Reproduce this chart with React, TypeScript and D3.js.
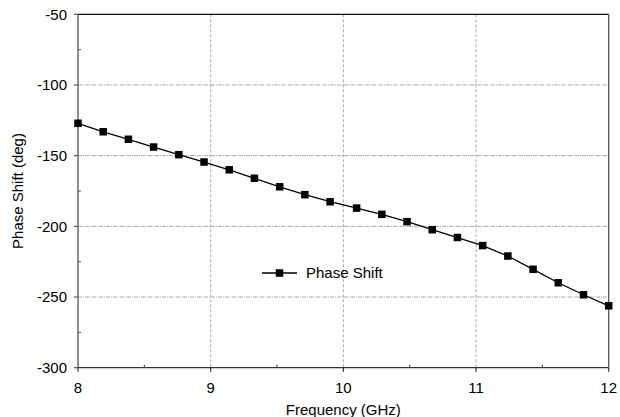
import React from "react";
import * as d3 from "d3";

const frequency = [8.0, 8.19, 8.38, 8.57, 8.76, 8.95, 9.14, 9.33, 9.52, 9.71, 9.9, 10.1, 10.29, 10.48, 10.67, 10.86, 11.05, 11.24, 11.43, 11.62, 11.81, 12.0];
const phaseShift = [-127.1, -133.1, -138.4, -143.9, -149.3, -154.5, -160.0, -166.0, -172.0, -177.6, -182.6, -187.1, -191.5, -196.7, -202.4, -207.9, -213.6, -221.0, -230.4, -239.9, -248.4, -256.2];
const xTicks = [8, 9, 10, 11, 12];
const xMinorTicks = [8.5, 9.5, 10.5, 11.5];
const yTicks = [-50, -100, -150, -200, -250, -300];
const yMinorTicks = [-75, -125, -175, -225, -275];
const seriesName = "Phase Shift";
const xTitle = "Frequency (GHz)";
const yTitle = "Phase Shift (deg)";

const W = 620;
const H = 417;
const L = 78, R = 608.7, T = 14.3, B = 367.7;
const FONT = "'Liberation Sans', Arial, Helvetica, sans-serif";

export default function App() {
  const x = d3.scaleLinear().domain([8, 12]).range([L, R]);
  const y = d3.scaleLinear().domain([-300, -50]).range([B, T]);
  const pts: [number, number][] = frequency.map((f, i) => [f, phaseShift[i]]);
  const line = d3.line<[number, number]>().x(d => x(d[0])).y(d => y(d[1]));
  const ms = 7.5;
  const legY = 273;
  return (
    <svg width={W} height={H} style={{ position: "fixed", left: 0, top: 0, background: "#fff" }} fontFamily={FONT}>
      <rect x={0} y={0} width={W} height={H} fill="#fff" />
      {/* grid */}
      {xTicks.filter(t => t > 8 && t < 12).map(t => (
        <line key={"gx" + t} x1={x(t)} x2={x(t)} y1={T} y2={B} stroke="#a8a8a8" strokeWidth={1} strokeDasharray="3,2" />
      ))}
      {yTicks.filter(t => t > -300 && t < -50).map(t => (
        <line key={"gy" + t} x1={L} x2={R} y1={y(t)} y2={y(t)} stroke="#a8a8a8" strokeWidth={1} strokeDasharray="4,1,1,1" />
      ))}
      {/* frame */}
      <line x1={L} x2={R} y1={T} y2={T} stroke="#111" strokeWidth={1.2} />
      <line x1={R} x2={R} y1={T} y2={B} stroke="#555" strokeWidth={1.3} />
      <line x1={L} x2={L} y1={T} y2={B} stroke="#555" strokeWidth={1.3} />
      <line x1={L} x2={R} y1={B} y2={B} stroke="#333" strokeWidth={1.3} />
      {/* y ticks */}
      {yTicks.map(t => (
        <g key={"yt" + t}>
          <line x1={L - 4} x2={L} y1={y(t)} y2={y(t)} stroke="#555" strokeWidth={1.2} />
          <text x={67} y={y(t)} dy="0.36em" textAnchor="end" fontSize={15} fill="#000">{t}</text>
        </g>
      ))}
      {yMinorTicks.map(t => (
        <line key={"ym" + t} x1={L} x2={L + 3} y1={y(t)} y2={y(t)} stroke="#555" strokeWidth={1} />
      ))}
      {/* x ticks */}
      {xTicks.map(t => (
        <g key={"xt" + t}>
          <line x1={x(t)} x2={x(t)} y1={B} y2={B + 4} stroke="#333" strokeWidth={1.2} />
          <text x={x(t)} y={393} textAnchor="middle" fontSize={15} fill="#000">{t}</text>
        </g>
      ))}
      {xMinorTicks.map(t => (
        <line key={"xm" + t} x1={x(t)} x2={x(t)} y1={B} y2={B - 3} stroke="#333" strokeWidth={1} />
      ))}
      {/* titles */}
      <text x={(L + R) / 2} y={414.5} textAnchor="middle" fontSize={15} fill="#000">{xTitle}</text>
      <text transform={`translate(23,${(T + B) / 2}) rotate(-90)`} textAnchor="middle" fontSize={15} fill="#000">{yTitle}</text>
      {/* series */}
      <path d={line(pts) || ""} fill="none" stroke="#000" strokeWidth={1.3} />
      {pts.map((p, i) => (
        <rect key={"m" + i} x={x(p[0]) - ms / 2} y={y(p[1]) - ms / 2} width={ms} height={ms} fill="#000" />
      ))}
      {/* legend */}
      <line x1={262} x2={297} y1={legY} y2={legY} stroke="#000" strokeWidth={1.3} />
      <rect x={279.5 - ms / 2} y={legY - ms / 2} width={ms} height={ms} fill="#000" />
      <text x={306} y={legY} dy="0.36em" fontSize={15} fill="#000">{seriesName}</text>
    </svg>
  );
}
